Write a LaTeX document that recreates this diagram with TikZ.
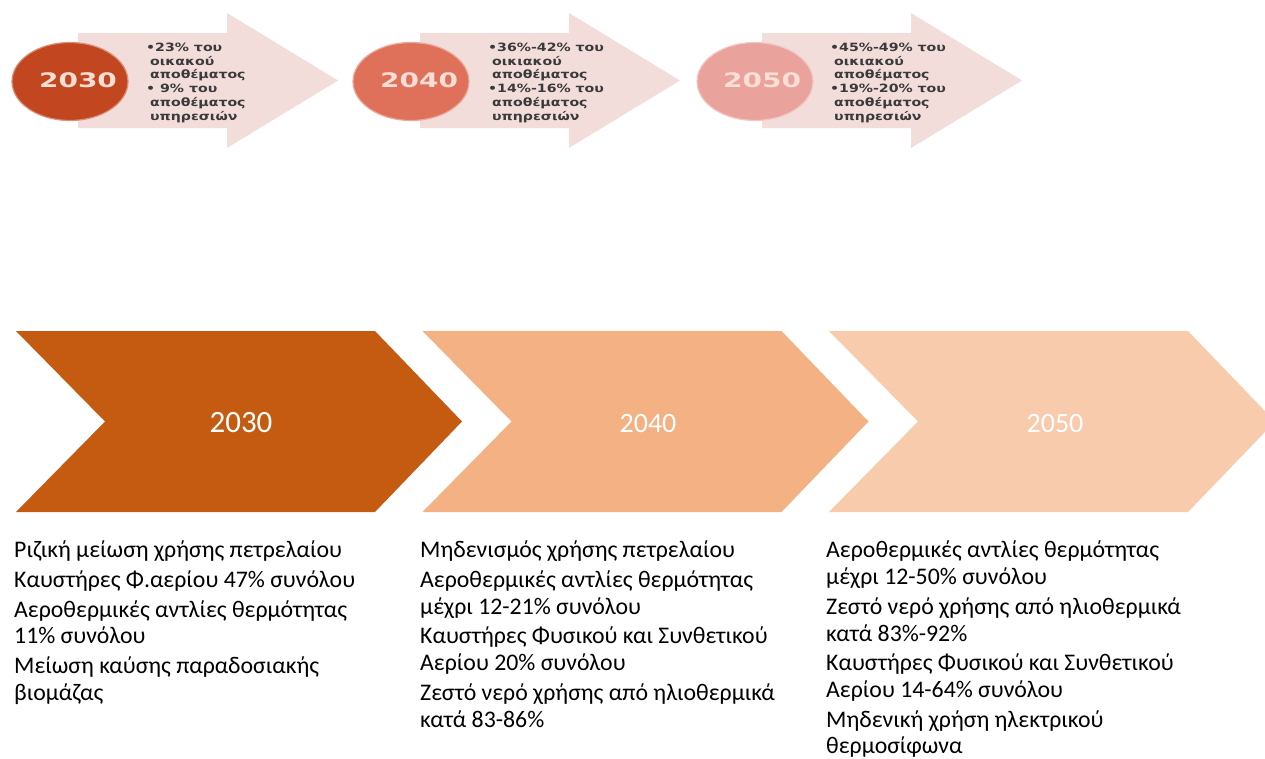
\documentclass[tikz,border=0pt]{standalone}
\usepackage{fontspec}
\setmainfont{Carlito}
\newfontfamily\ellfont[FakeStretch=1.4]{DejaVu Sans}
\newfontfamily\bulfont[FakeStretch=1.24]{DejaVu Sans}
\definecolor{cA}{HTML}{C55A11}
\definecolor{cB}{HTML}{F4B183}
\definecolor{cC}{HTML}{F8CBAD}
\definecolor{arrowpink}{HTML}{F3DDDB}
\definecolor{ellA}{HTML}{C2461F}
\definecolor{ellB}{HTML}{DF7059}
\definecolor{ellC}{HTML}{E9A39C}
\definecolor{elltext}{HTML}{F8DED5}
\definecolor{bultext}{HTML}{3A3A3A}
\newcommand{\topstrut}[1]{\rule{0pt}{#1}}
\tikzset{
  yearbig/.style={anchor=base, text=white, inner sep=0pt},
  desc/.style={anchor=north west, align=left, inner sep=0pt, text=black,
    font=\fontsize{23.8}{26.8}\selectfont},
  ellyear/.style={anchor=base, inner sep=0pt, text=elltext,
    font=\ellfont\bfseries\fontsize{20}{24}\selectfont},
  bullets/.style={anchor=north west, align=left, inner sep=0pt, text=bultext,
    font=\bulfont\bfseries\fontsize{11.4}{13.8}\selectfont},
}
\begin{document}
\begin{tikzpicture}[x=1pt,y=-1pt]
\useasboundingbox (0,0) rectangle (1265,758);
\clip (0,0) rectangle (1265,758);

% ---- top arrows ----
\foreach \i/\ec/\ex in {0/ellA/70,1/ellB/411,2/ellC/755}{
  \begin{scope}[xshift=342*\i pt]
    \fill[arrowpink] (78,33) -- (227,33) -- (227,13) -- (338,80.5) -- (227,148) -- (227,128) -- (78,128) -- cycle;
  \end{scope}
  \fill[\ec, draw=\ec!60!white, line width=1.2pt] (\ex,81.5) ellipse [x radius=58, y radius=39];
}
\node[ellyear] (e1) at (78,87) {2030};
\node[ellyear] (e2) at (419,87) {2040};
\node[ellyear] (e3) at (762,87) {2050};

\node[bullets] (b1) at (146,41) {\topstrut{10pt}•23\% του\\\hspace*{4pt}οικακού\\\hspace*{4pt}αποθέματος\\• 9\% του\\\hspace*{4pt}αποθέματος\\\hspace*{4pt}υπηρεσιών};
\node[bullets] (b2) at (488,41) {\topstrut{10pt}•36\%-42\% του\\\hspace*{4pt}οικιακού\\\hspace*{4pt}αποθέματος\\•14\%-16\% του\\\hspace*{4pt}αποθέματος\\\hspace*{4pt}υπηρεσιών};
\node[bullets] (b3) at (830,41) {\topstrut{10pt}•45\%-49\% του\\\hspace*{4pt}οικιακού\\\hspace*{4pt}αποθέματος\\•19\%-20\% του\\\hspace*{4pt}αποθέματος\\\hspace*{4pt}υπηρεσιών};

% ---- chevrons ----
\foreach \i/\cc in {0/cA,1/cB,2/cC}{
  \begin{scope}[xshift=406.5*\i pt]
    \fill[\cc] (16,331) -- (375,331) -- (462,421.5) -- (375,512) -- (16,512) -- (105,421.5) -- cycle;
  \end{scope}
}
\node[yearbig, font=\fontsize{31}{36}\selectfont] (y1) at (241,432) {2030};
\node[yearbig, font=\fontsize{28}{32}\selectfont] (y2) at (648,432) {2040};
\node[yearbig, font=\fontsize{28}{32}\selectfont] (y3) at (1055,432) {2050};

% ---- descriptions ----
\node[desc] (d1) at (14,541) {\topstrut{16pt}Ριζική μείωση χρήσης πετρελαίου\\[2.8pt]Καυστήρες Φ.αερίου 47\% συνόλου\\[2.8pt]Αεροθερμικές αντλίες θερμότητας\\11\% συνόλου\\[2.8pt]Μείωση καύσης παραδοσιακής\\βιομάζας};
\node[desc] (d2) at (420,541) {\topstrut{16pt}Μηδενισμός χρήσης πετρελαίου\\[2.8pt]Αεροθερμικές αντλίες θερμότητας\\μέχρι 12-21\% συνόλου\\[2.8pt]Καυστήρες Φυσικού και Συνθετικού\\Αερίου 20\% συνόλου\\[2.8pt]Ζεστό νερό χρήσης από ηλιοθερμικά\\κατά 83-86\%};
\node[desc] (d3) at (826,541) {\topstrut{16pt}Αεροθερμικές αντλίες θερμότητας\\μέχρι 12-50\% συνόλου\\[2.8pt]Ζεστό νερό χρήσης από ηλιοθερμικά\\κατά 83\%-92\%\\[2.8pt]Καυστήρες Φυσικού και Συνθετικού\\Αερίου 14-64\% συνόλου\\[2.8pt]Μηδενική χρήση ηλεκτρικού\\θερμοσίφωνα};
\end{tikzpicture}
\end{document}
